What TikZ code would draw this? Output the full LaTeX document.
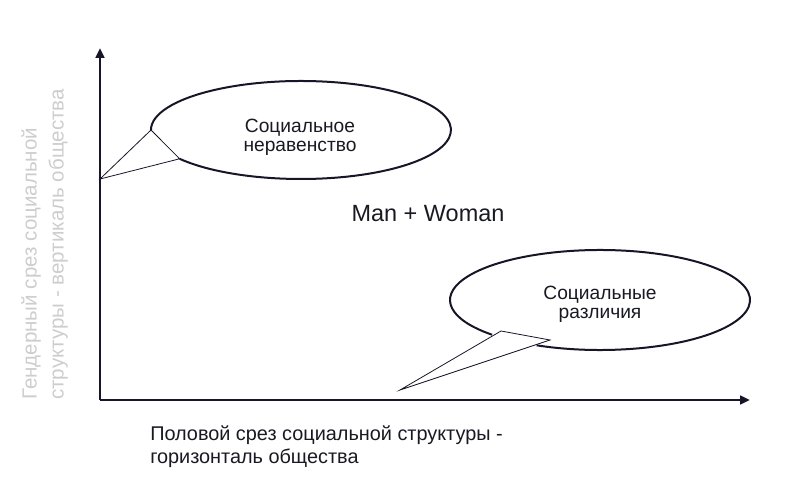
\documentclass[tikz,border=0pt]{standalone}
\usepackage{fontspec}
\setmainfont{Liberation Sans}
\usetikzlibrary{arrows.meta,calc}
\definecolor{ink}{RGB}{22,22,40}
\definecolor{txt}{RGB}{25,25,35}
\definecolor{pale}{RGB}{205,205,205}
\tikzset{
  axis/.style={draw=ink, line width=1.9pt, -{Triangle[length=7.5pt,width=6.5pt]}},
  bubble/.style={draw=ink, line width=1.5pt},
  tail/.style={draw=ink, line width=0.6pt, line join=miter},
  lbl/.style={text=txt, inner sep=0pt, align=center, font=\fontsize{14.4}{14.5}\selectfont},
  big/.style={text=txt, inner sep=0pt, font=\fontsize{17.6}{20}\selectfont},
  axcap/.style={text=txt, inner sep=0pt, align=left, font=\fontsize{14.9}{17.25}\selectfont},
  side/.style={text=pale, inner sep=0pt, align=left, font=\fontsize{15.4}{20.3}\selectfont}
}
\begin{document}
\begin{tikzpicture}[x=0.75pt,y=0.75pt]
\useasboundingbox (0,0) rectangle (800,500);
% axes
\coordinate (O) at (100,100);
\coordinate (Ytop) at (100,452);
\coordinate (Xend) at (750,100);
\draw[axis] (O) -- (Ytop);
\draw[axis] (O) -- (Xend);
% top bubble
\coordinate (c1) at (301,370);
\coordinate (t1) at (100,321);
\coordinate (a1) at (151,370);
\coordinate (b1) at (179.6,341.2);
\draw[bubble] (b1) arc[start angle=216, end angle=540, x radius=112.5pt, y radius=36.75pt];
\draw[tail] (t1) -- (a1) -- (b1) -- cycle;
\node[lbl] (ineq) at (300,363) {Социальное\\неравенство};
% bottom bubble
\coordinate (c2) at (600,200);
\coordinate (t2) at (400,110);
\coordinate (a2) at (501,169);
\coordinate (b2) at (550,160);
\draw[bubble] ($(c2)+(245:112.5pt and 37.5pt)$) arc[start angle=245, end angle=584, x radius=112.5pt, y radius=37.5pt];
\draw[tail] (t2) -- (a2) -- (b2) -- cycle;
\node[lbl] (diff) at (600,196) {Социальные\\различия};
% centre label
\node[big] (mw) at (428,286) {Man + Woman};
% axis captions
\node[axcap, anchor=west] (hcap) at (150,53) {Половой срез социальной структуры -\\горизонталь общества};
\node[side, rotate=90, anchor=north west] (vcap) at (21,100) {Гендерный срез социальной\\структуры - вертикаль общества};
\end{tikzpicture}
\end{document}
